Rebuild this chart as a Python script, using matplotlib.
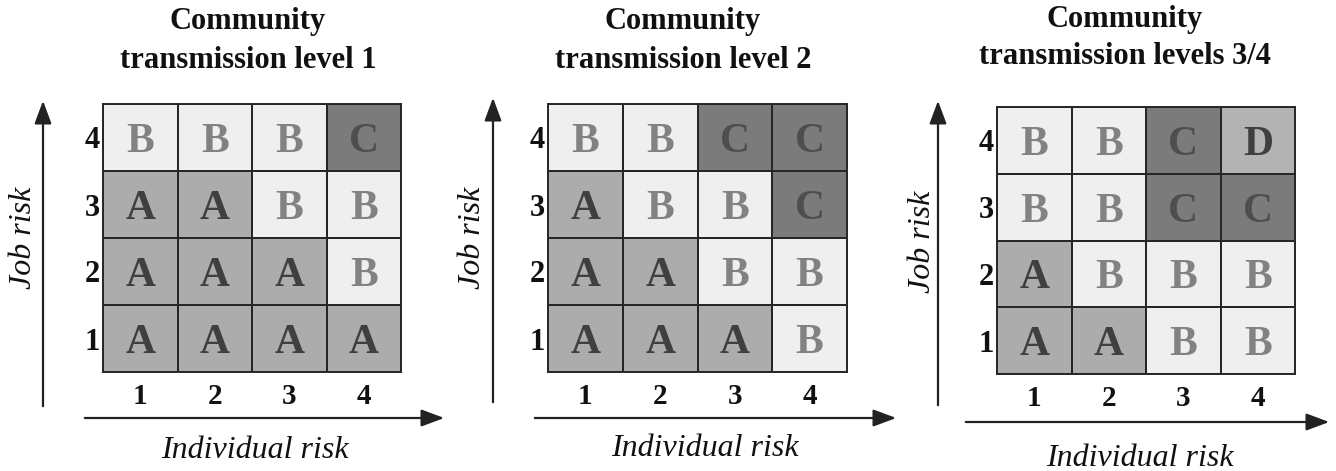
import matplotlib
matplotlib.use("Agg")
import matplotlib.pyplot as plt
from matplotlib.colors import ListedColormap
from matplotlib.patches import FancyArrowPatch
from matplotlib.transforms import blended_transform_factory
import numpy as np

# ---- data ----
titles = ["Community\ntransmission level 1",
          "Community\ntransmission level 2",
          "Community\ntransmission levels 3/4"]
ticks = ["1", "2", "3", "4"]
xlabel = "Individual risk"
ylabel = "Job risk"
# rows: job risk 1..4 (bottom to top); columns: individual risk 1..4
level1 = [["A", "A", "A", "A"],
          ["A", "A", "A", "B"],
          ["A", "A", "B", "B"],
          ["B", "B", "B", "C"]]
level2 = [["A", "A", "A", "B"],
          ["A", "A", "B", "B"],
          ["A", "B", "B", "C"],
          ["B", "B", "C", "C"]]
level34 = [["A", "A", "B", "B"],
           ["A", "B", "B", "B"],
           ["B", "B", "C", "C"],
           ["B", "B", "C", "D"]]
panels = [level1, level2, level34]

categories = ["A", "B", "C", "D"]
cell_colors = ["#acacac", "#efefef", "#7b7b7b", "#b3b3b3"]
text_colors = ["#3f3f3f", "#828282", "#4e4e4e", "#3f3f3f"]

W, H = 1336, 471
fig = plt.figure(figsize=(W / 100, H / 100), dpi=100)
fig.patch.set_facecolor("white")

serif = ["Liberation Serif", "DejaVu Serif"]

# panel geometry in pixels: grid left, right, top, bottom
grids = [(103, 401, 104, 372), (548, 847, 104, 372), (997, 1295, 107, 374)]
title_x = [248, 683, 1125]
title_y = [(22, 60), (22, 60), (20, 57)]
yarrow = [(43, 409, 98), (493, 405, 95), (938, 408, 98)]   # x, bottom, top
xarrow = [(418, 82, 447), (418, 532, 899), (422, 963, 1332)]  # y, left, right
xlab_pos = [(255, 451), (705, 449), (1140, 458)]
ylab_pos = [(24, 238), (472, 238), (922, 242)]
collab_y = [394, 394, 396]


def fx(x):
    return x / W


def fy(y):
    return 1 - y / H


cmap = ListedColormap(cell_colors)
for i, data in enumerate(panels):
    l, r, t, b = grids[i]
    ax = fig.add_axes([fx(l), fy(b), (r - l) / W, (b - t) / H])
    codes = np.array([[categories.index(v) for v in row] for row in data])
    ax.pcolormesh(np.arange(5) + 0.5, np.arange(5) + 0.5, codes, cmap=cmap,
                  vmin=-0.5, vmax=len(categories) - 0.5,
                  edgecolors="#262626", linewidth=1.2)
    for rr, row in enumerate(data):
        for cc, v in enumerate(row):
            ax.text(cc + 1, rr + 1, v, ha="center", va="center_baseline",
                    fontsize=30, fontweight="bold", family=serif,
                    color=text_colors[categories.index(v)])
    ax.set_xlim(0.5, 4.5)
    ax.set_ylim(0.5, 4.5)
    ax.set_xticks(range(1, 5))
    ax.set_yticks(range(1, 5))
    ax.set_xticklabels([])
    ax.set_yticklabels(ticks, fontsize=22, fontweight="bold", family=serif,
                       color="#111111")
    for lab in ax.get_yticklabels():
        lab.set_verticalalignment("center_baseline")
    ax.tick_params(length=0, pad=2)
    tr = blended_transform_factory(ax.transData, fig.transFigure)
    for k, s in enumerate(ticks):
        ax.text(k + 1, fy(collab_y[i]), s, transform=tr, ha="center",
                va="center_baseline", fontsize=21, fontweight="bold",
                family=serif, color="#111111")
    for sp in ax.spines.values():
        sp.set_color("#262626")
        sp.set_linewidth(1.4)

    # title
    line1, line2 = titles[i].split("\n")
    for txt, yy in zip((line1, line2), title_y[i]):
        fig.text(fx(title_x[i]), fy(yy), txt, ha="center", va="center",
                 fontsize=22, fontweight="bold", family=serif, color="#111111")

    # arrows
    ax_, yb, yt = yarrow[i]
    fig.add_artist(FancyArrowPatch(
        (fx(ax_), fy(yb)), (fx(ax_), fy(yt)), transform=fig.transFigure,
        arrowstyle="-|>,head_length=7,head_width=2.6", color="#222222",
        linewidth=1.6, mutation_scale=2))
    y_, xl, xr = xarrow[i]
    fig.add_artist(FancyArrowPatch(
        (fx(xl), fy(y_)), (fx(xr), fy(y_)), transform=fig.transFigure,
        arrowstyle="-|>,head_length=7,head_width=2.6", color="#222222",
        linewidth=1.6, mutation_scale=2))

    fig.text(fx(xlab_pos[i][0]), fy(xlab_pos[i][1]), xlabel, ha="center",
             va="center", fontsize=23, style="italic", family=serif,
             color="#111111")
    fig.text(fx(ylab_pos[i][0]), fy(ylab_pos[i][1]), ylabel, ha="center",
             va="center", fontsize=23, style="italic", family=serif,
             rotation=90, color="#111111")

fig.savefig("out.png", dpi=100, facecolor="white")
